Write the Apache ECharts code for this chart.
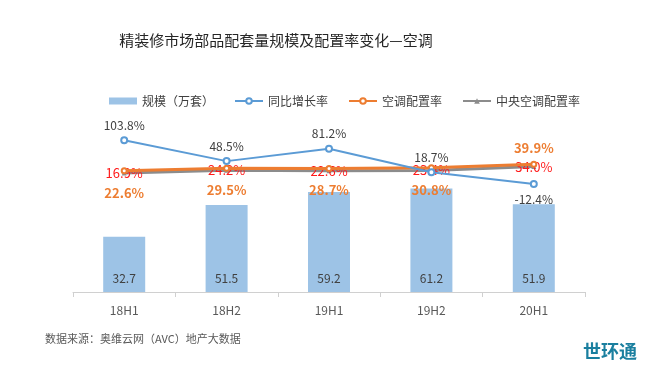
<!DOCTYPE html>
<html><head><meta charset="utf-8">
<script src="https://cdn.jsdelivr.net/npm/echarts@6/dist/echarts.min.js"></script>
<style>html,body{margin:0;padding:0;background:#fff}#c{width:650px;height:373px}</style>
</head><body><div id="c"></div>
<script>
var categories = ['18H1','18H2','19H1','19H2','20H1'];
var scaleValues = [32.7, 51.5, 59.2, 61.2, 51.9];
var yoyGrowth = [103.8, 48.5, 81.2, 18.7, -12.4];
var acRate = [22.6, 29.5, 28.7, 30.8, 39.9];
var centralAcRate = [16.9, 24.2, 22.6, 23.4, 34.0];
var seriesNames = ['规模（万套）','同比增长率','空调配置率','中央空调配置率'];

var FONT = '"Noto Sans CJK SC", "Microsoft YaHei", sans-serif';
var pct = function(p){return p.value.toFixed(1)+'%';};
var chart = echarts.init(document.getElementById('c'));
chart.setOption({
  animation: false,
  textStyle: {fontFamily: FONT},
  title: {
    text: '精装修市场部品配套量规模及配置率变化—空调',
    left: 271, top: 28, textAlign: 'center',
    textStyle: {fontFamily: FONT, fontSize: 15, fontWeight: 'normal', color: '#262626'}
  },
  legend: {
    left: 104, top: 90, itemGap: 20, itemWidth: 28, itemHeight: 7,
    textStyle: {fontFamily: FONT, fontSize: 12, color: '#404040'},
    data: [
      {name: seriesNames[0], icon: 'rect'},
      {name: seriesNames[1]},
      {name: seriesNames[2]},
      {name: seriesNames[3]}
    ]
  },
  grid: {left: 73, right: 65, top: 123, bottom: 81},
  xAxis: {
    type: 'category', data: categories, boundaryGap: true,
    axisLine: {lineStyle: {color: '#d0d0d0'}},
    axisTick: {show: true, length: 5, lineStyle: {color: '#d0d0d0'}},
    axisLabel: {color: '#595959', fontSize: 12, margin: 12, fontFamily: FONT}
  },
  yAxis: [
    {type: 'value', min: 0, max: 100, show: false, splitLine: {show: false}},
    {type: 'value', min: -300, max: 150, show: false, splitLine: {show: false}}
  ],
  series: [
    {
      name: seriesNames[0], type: 'bar', data: scaleValues, barWidth: 42,
      itemStyle: {color: '#9dc3e6'},
      label: {show: true, position: 'insideBottom', distance: 8, color: '#404040', fontSize: 12, fontFamily: FONT}
    },
    {
      name: seriesNames[3], type: 'line', yAxisIndex: 1, data: centralAcRate,
      symbol: 'triangle', symbolSize: 5,
      lineStyle: {color: '#8c8c8c', width: 3},
      itemStyle: {color: '#8c8c8c'},
      z: 3,
      label: {show: true, position: 'inside', formatter: pct, color: '#ff1a1a', fontSize: 13, fontFamily: FONT}
    },
    {
      name: seriesNames[2], type: 'line', yAxisIndex: 1,
      data: acRate.map(function(v, i){
        return i === acRate.length - 1 ? {value: v, label: {position: 'top', distance: 6}} : v;
      }),
      symbol: 'emptyCircle', symbolSize: 5,
      lineStyle: {color: '#ed7d31', width: 3},
      itemStyle: {color: '#ed7d31'},
      z: 4,
      label: {show: true, position: 'bottom', distance: 12, formatter: pct, color: '#ed7d31', fontSize: 13, fontWeight: 'bold', fontFamily: FONT}
    },
    {
      name: seriesNames[1], type: 'line', yAxisIndex: 1,
      data: yoyGrowth.map(function(v, i){
        return i === yoyGrowth.length - 1 ? {value: v, label: {position: 'bottom', distance: 5}} : v;
      }),
      symbol: 'emptyCircle', symbolSize: 6,
      lineStyle: {color: '#5b9bd5', width: 2},
      itemStyle: {color: '#5b9bd5'},
      z: 5,
      label: {show: true, position: 'top', distance: 5, formatter: pct, color: '#404040', fontSize: 12, fontFamily: FONT}
    }
  ],
  graphic: [
    {type: 'text', left: 45, top: 333, style: {text: '数据来源：奥维云网（AVC）地产大数据', font: '11px ' + FONT, fill: '#595959'}},
    {type: 'text', left: 583, top: 342, style: {text: '世环通', font: 'bold 18px ' + FONT, fill: '#1a7f9f'}}
  ]
});
</script></body></html>
